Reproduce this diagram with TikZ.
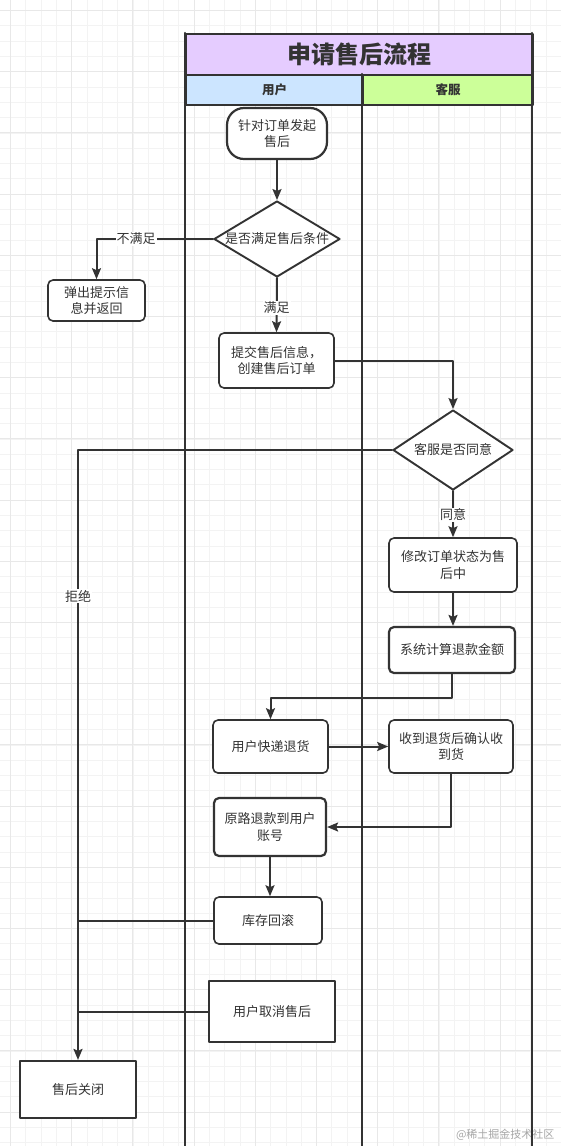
\documentclass[tikz,border=0pt]{standalone}
\usepackage{fontspec}
\setmainfont{Noto Sans CJK SC}
\usetikzlibrary{arrows.meta,shapes.geometric}
\definecolor{ink}{HTML}{333333}
\definecolor{titlebg}{HTML}{E5CCFF}
\definecolor{userbg}{HTML}{CCE5FF}
\definecolor{servbg}{HTML}{CCFF99}
\definecolor{gridminor}{HTML}{F3F3F3}
\definecolor{gridmajor}{HTML}{E8E8E8}

\begin{document}
\begin{tikzpicture}[x=1pt,y=-1pt,line cap=round,line join=round,
  every node/.style={text=ink,font=\fontsize{13}{16.5}\selectfont},
  box/.style={draw=ink,line width=1.6pt,rounded corners=5pt,fill=white,inner sep=0pt,align=center},
  heavybox/.style={box,line width=2.2pt},
  flatbox/.style={heavybox,rounded corners=0pt},
  decision/.style={diamond,draw=ink,line width=1.9pt,fill=white,inner sep=0pt},
  lane/.style={draw=ink,line width=2.2pt},
  arr/.style={draw=ink,line width=2pt,-{Stealth[length=11pt,width=9pt,inset=2pt]}},
  link/.style={draw=ink,line width=2pt},
  tag/.style={fill=white,inner sep=1pt}]
  \useasboundingbox (0,0) rectangle (561,1146);
  \fill[white] (0,0) rectangle (561,1146);
  \foreach \i in {0,...,36}
    \draw[gridminor,line width=0.8pt] (10.5+15.3*\i,0) -- ++(0,1146);
  \foreach \j in {0,...,74}
    \draw[gridminor,line width=0.8pt] (0,10.5+15.3*\j) -- ++(561,0);
  \foreach \i in {0,...,9}
    \draw[gridmajor,line width=1pt] (10.5+61.2*\i,0) -- ++(0,1146);
  \foreach \j in {0,...,18}
    \draw[gridmajor,line width=1pt] (0,10.5+61.2*\j) -- ++(561,0);
  \node[text=black!35,font=\fontsize{11}{13}\selectfont,anchor=east] (mark) at (558,1135) {@稀土掘金技术社区};

  \node[lane,fill=titlebg,minimum width=347,minimum height=41,inner sep=0pt,anchor=north west,
    font=\fontsize{24}{28}\selectfont\bfseries] (title) at (185,33) {申请售后流程};
  \node[lane,fill=userbg,minimum width=177,minimum height=30,inner sep=0pt,anchor=north west,
    font=\fontsize{12.5}{16}\selectfont\bfseries] (userlane) at (185,74) {用户};
  \node[lane,fill=servbg,minimum width=170,minimum height=30,inner sep=0pt,anchor=north west,
    font=\fontsize{12.5}{16}\selectfont\bfseries] (servlane) at (362,74) {客服};
  \draw[lane] (185,33) -- (185,1150);
  \draw[lane] (362,74) -- (362,1150);
  \draw[lane] (532,33) -- (532,1150);

  \node[box,line width=2.2pt,rounded corners=17pt,minimum width=100,minimum height=51] (start) at (277,133.5) {针对订单发起\\售后};
  \node[decision,minimum width=126,minimum height=76,label={center:是否满足售后条件}] (check) at (277,239) {};
  \node[box,minimum width=97,minimum height=41] (tip) at (96.5,300.5) {弹出提示信\\息并返回};
  \node[box,minimum width=115,minimum height=55] (submit) at (276.5,360.5) {提交售后信息，\\创建售后订单};
  \node[decision,minimum width=120,minimum height=80,label={center:客服是否同意}] (agree) at (453,450) {};
  \node[box,minimum width=128,minimum height=54] (modify) at (453,565) {修改订单状态为售\\后中};
  \node[heavybox,minimum width=126,minimum height=46] (calc) at (452,650) {系统计算退款金额};
  \node[box,minimum width=115,minimum height=53] (ship) at (270.5,746.5) {用户快递退货};
  \node[box,minimum width=124,minimum height=53] (receive) at (451,746.5) {收到退货后确认收\\到货};
  \node[heavybox,minimum width=112,minimum height=58] (refund) at (270,827) {原路退款到用户\\账号};
  \node[box,minimum width=108,minimum height=47] (rollback) at (268,920.5) {库存回滚};
  \node[flatbox,minimum width=126,minimum height=61] (cancel) at (272,1011.5) {用户取消售后};
  \node[flatbox,minimum width=116,minimum height=57] (close) at (78,1089.5) {售后关闭};

  \draw[arr] (start) -- (check);
  \draw[arr] (check.west) -| node[tag,pos=0.33] {不满足} (tip.north);
  \draw[arr] (check.south) -- node[tag,pos=0.55] {满足} (submit.north);
  \draw[arr] (submit.east) -| (agree.north);
  \draw[arr] (agree.west) -| node[tag,pos=0.62] {拒绝} (close.north);
  \draw[arr] (agree.south) -- node[tag,pos=0.52] {同意} (modify.north);
  \draw[arr] (modify.south) -- (modify.south |- calc.north);
  \draw[arr] (calc.south) -- ++(0,24) -| (ship.north);
  \draw[arr] (ship) -- (receive);
  \draw[arr] (receive.south) |- (refund.east);
  \draw[arr] (refund.south) -- (refund.south |- rollback.north);
  \draw[link] (rollback.west) -- (close.north |- rollback.west);
  \draw[link] (cancel.west) -- (close.north |- cancel.west);
\end{tikzpicture}
\end{document}
